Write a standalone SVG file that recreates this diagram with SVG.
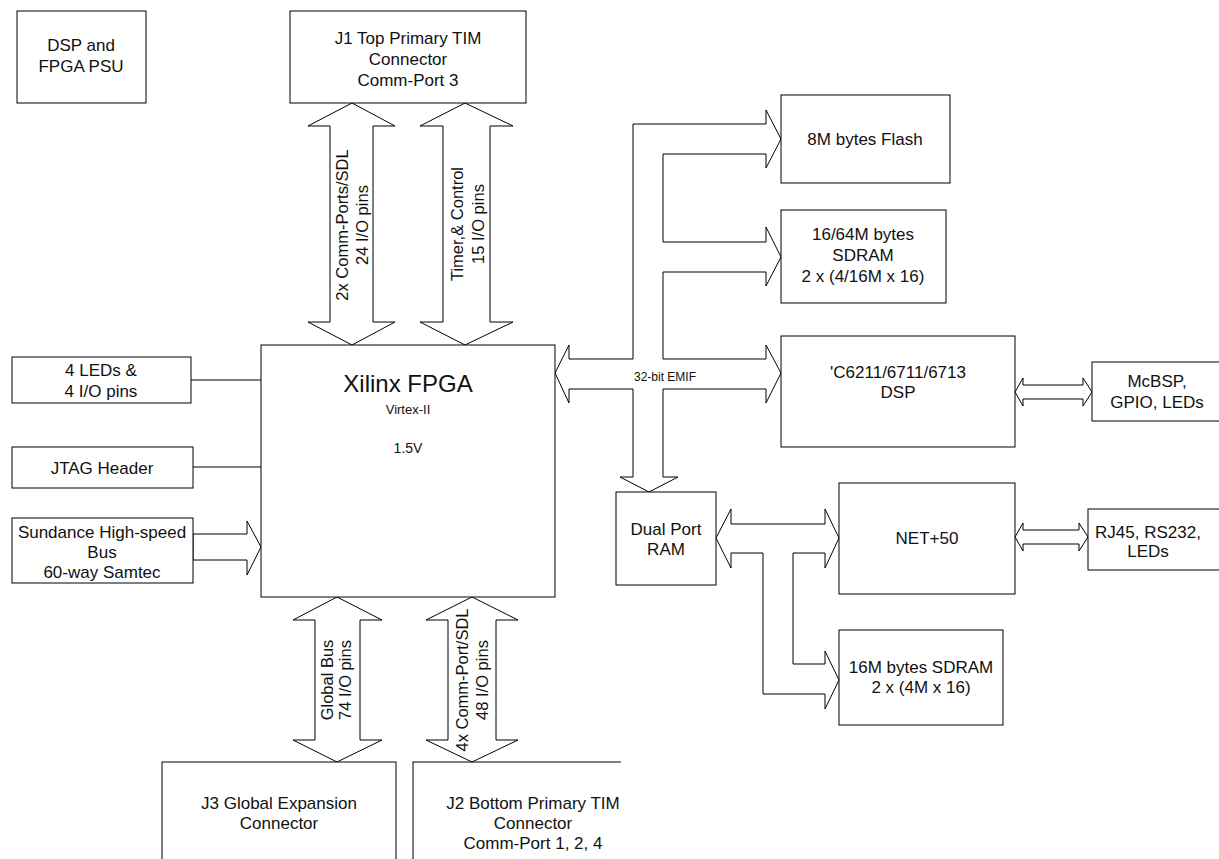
<svg xmlns="http://www.w3.org/2000/svg" width="1219" height="859" viewBox="0 0 1219 859">
<defs>
<style>
.box{fill:#fff;stroke:#000;stroke-width:1}
.bus{fill:#fff;stroke:#000;stroke-width:1;stroke-linejoin:miter}
.ln{fill:none;stroke:#000;stroke-width:1}
text{font-family:"Liberation Sans",Arial,sans-serif;font-size:17px;fill:#111;text-anchor:middle}
.rt{font-size:16.5px}
.sm{font-size:12px}
</style>
<clipPath id="j2clip"><rect x="0" y="740" width="621" height="130"/></clipPath>
</defs>
<rect width="1219" height="859" fill="#fff"/>

<g id="connectors">
<line class="ln" x1="191" y1="380" x2="261" y2="380"/>
<line class="ln" x1="193" y1="467" x2="261" y2="467"/>
<polygon class="bus" points="193,534 247,534 247,521 261,547 247,575 247,560 193,560"/>
<polygon class="bus" points="352,103 395,126 373,126 373,322 395,322 352,345 308,322 330,322 330,126 308,126"/>
<polygon class="bus" points="465,103 513,126 490,126 490,322 513,322 465,345 420,322 443,322 443,126 420,126"/>
<polygon class="bus" points="337,597 382,620 360,620 360,740 382,740 337,762 293,740 315,740 315,620 293,620"/>
<polygon class="bus" points="472,597 518,620 496,620 496,740 518,740 472,762 426,740 448,740 448,620 426,620"/>
<polygon class="bus" points="555,373 569,345 569,359 633,359 633,124 766,124 766,110 781,139 766,168 766,154 663,154 663,242 766,242 766,227 781,257 766,286 766,272 663,272 663,359 766,359 766,345 781,373 766,403 766,389 663,389 663,477 678,477 649,492 620,477 633,477 633,389 569,389 569,403"/>
<polygon class="bus" points="716,538 731,509 731,524 825,524 825,509 839,538 825,568 825,553 793,553 793,664 825,664 825,651 839,680 825,709 825,694 763,694 763,553 731,553 731,568"/>
<polygon class="bus" points="1015,392 1023,378 1023,385 1083,385 1083,378 1092,392 1083,406 1083,399 1023,399 1023,406"/>
<polygon class="bus" points="1015,537 1023,523 1023,530 1079,530 1079,523 1088,537 1079,551 1079,544 1023,544 1023,551"/>
<text class="rt" transform="rotate(-90 348 225)" x="348" y="225">2x Comm-Ports/SDL</text>
<text class="rt" transform="rotate(-90 368 225)" x="368" y="225">24 I/O pins</text>
<text class="rt" transform="rotate(-90 463 224)" x="463" y="224">Timer,&amp; Control</text>
<text class="rt" transform="rotate(-90 484 224)" x="484" y="224">15 I/O pins</text>
<text class="rt" transform="rotate(-90 333 680)" x="333" y="680">Global Bus</text>
<text class="rt" transform="rotate(-90 351 680)" x="351" y="680">74 I/O pins</text>
<text class="rt" transform="rotate(-90 468 680)" x="468" y="680">4x Comm-Port/SDL</text>
<text class="rt" transform="rotate(-90 488 680)" x="488" y="680">48 I/O pins</text>
<text class="sm" x="665" y="381">32-bit EMIF</text>
</g>

<g id="psu"><rect class="box" x="17" y="11" width="129" height="92"/>
<text x="81" y="51">DSP and</text><text x="81" y="72">FPGA PSU</text></g>

<g id="j1"><rect class="box" x="290" y="11" width="236" height="92"/>
<text x="408" y="44">J1 Top Primary TIM</text><text x="408" y="65">Connector</text><text x="408" y="86">Comm-Port 3</text></g>

<g id="fpga"><rect class="box" x="261" y="345" width="294" height="252"/>
<text x="408" y="392" style="font-size:24px">Xilinx FPGA</text>
<text x="408" y="414" style="font-size:13px">Virtex-II</text>
<text x="408" y="453" style="font-size:14px">1.5V</text></g>

<g id="leds"><rect class="box" x="12" y="357" width="179" height="46"/>
<text x="101" y="376">4 LEDs &amp;</text><text x="101" y="397">4 I/O pins</text></g>

<g id="jtag"><rect class="box" x="12" y="447" width="181" height="41"/>
<text x="102" y="474">JTAG Header</text></g>

<g id="sundance"><rect class="box" x="12" y="518" width="181" height="65"/>
<text x="102" y="538">Sundance High-speed</text><text x="102" y="558">Bus</text><text x="102" y="578">60-way Samtec</text></g>

<g id="flash"><rect class="box" x="781" y="95" width="169" height="88"/>
<text x="865" y="145">8M bytes Flash</text></g>

<g id="sdram64"><rect class="box" x="781" y="210" width="165" height="93"/>
<text x="863" y="240">16/64M bytes</text><text x="863" y="261">SDRAM</text><text x="863" y="282">2 x (4/16M x 16)</text></g>

<g id="dsp"><rect class="box" x="781" y="336" width="234" height="111"/>
<text x="898" y="378">'C6211/6711/6713</text><text x="898" y="398">DSP</text></g>

<g id="mcbsp"><rect class="box" x="1092" y="362" width="135" height="59"/>
<text x="1157" y="387">McBSP,</text><text x="1157" y="408">GPIO, LEDs</text></g>

<g id="dpram"><rect class="box" x="616" y="492" width="100" height="93"/>
<text x="666" y="535">Dual Port</text><text x="666" y="555">RAM</text></g>

<g id="net50"><rect class="box" x="839" y="483" width="176" height="111"/>
<text x="927" y="544">NET+50</text></g>

<g id="rj45"><rect class="box" x="1088" y="509" width="139" height="61"/>
<text x="1148" y="538">RJ45, RS232,</text><text x="1148" y="557">LEDs</text></g>

<g id="sdram16"><rect class="box" x="839" y="630" width="164" height="95"/>
<text x="921" y="673">16M bytes SDRAM</text><text x="921" y="693">2 x (4M x 16)</text></g>

<g id="j3"><rect class="box" x="162" y="762" width="234" height="110"/>
<text x="279" y="809">J3 Global Expansion</text><text x="279" y="829">Connector</text></g>

<g id="j2" clip-path="url(#j2clip)"><rect class="box" x="413" y="762" width="240" height="110"/>
<text x="533" y="809">J2 Bottom Primary TIM</text><text x="533" y="829">Connector</text><text x="533" y="849">Comm-Port 1, 2, 4</text></g>
</svg>
